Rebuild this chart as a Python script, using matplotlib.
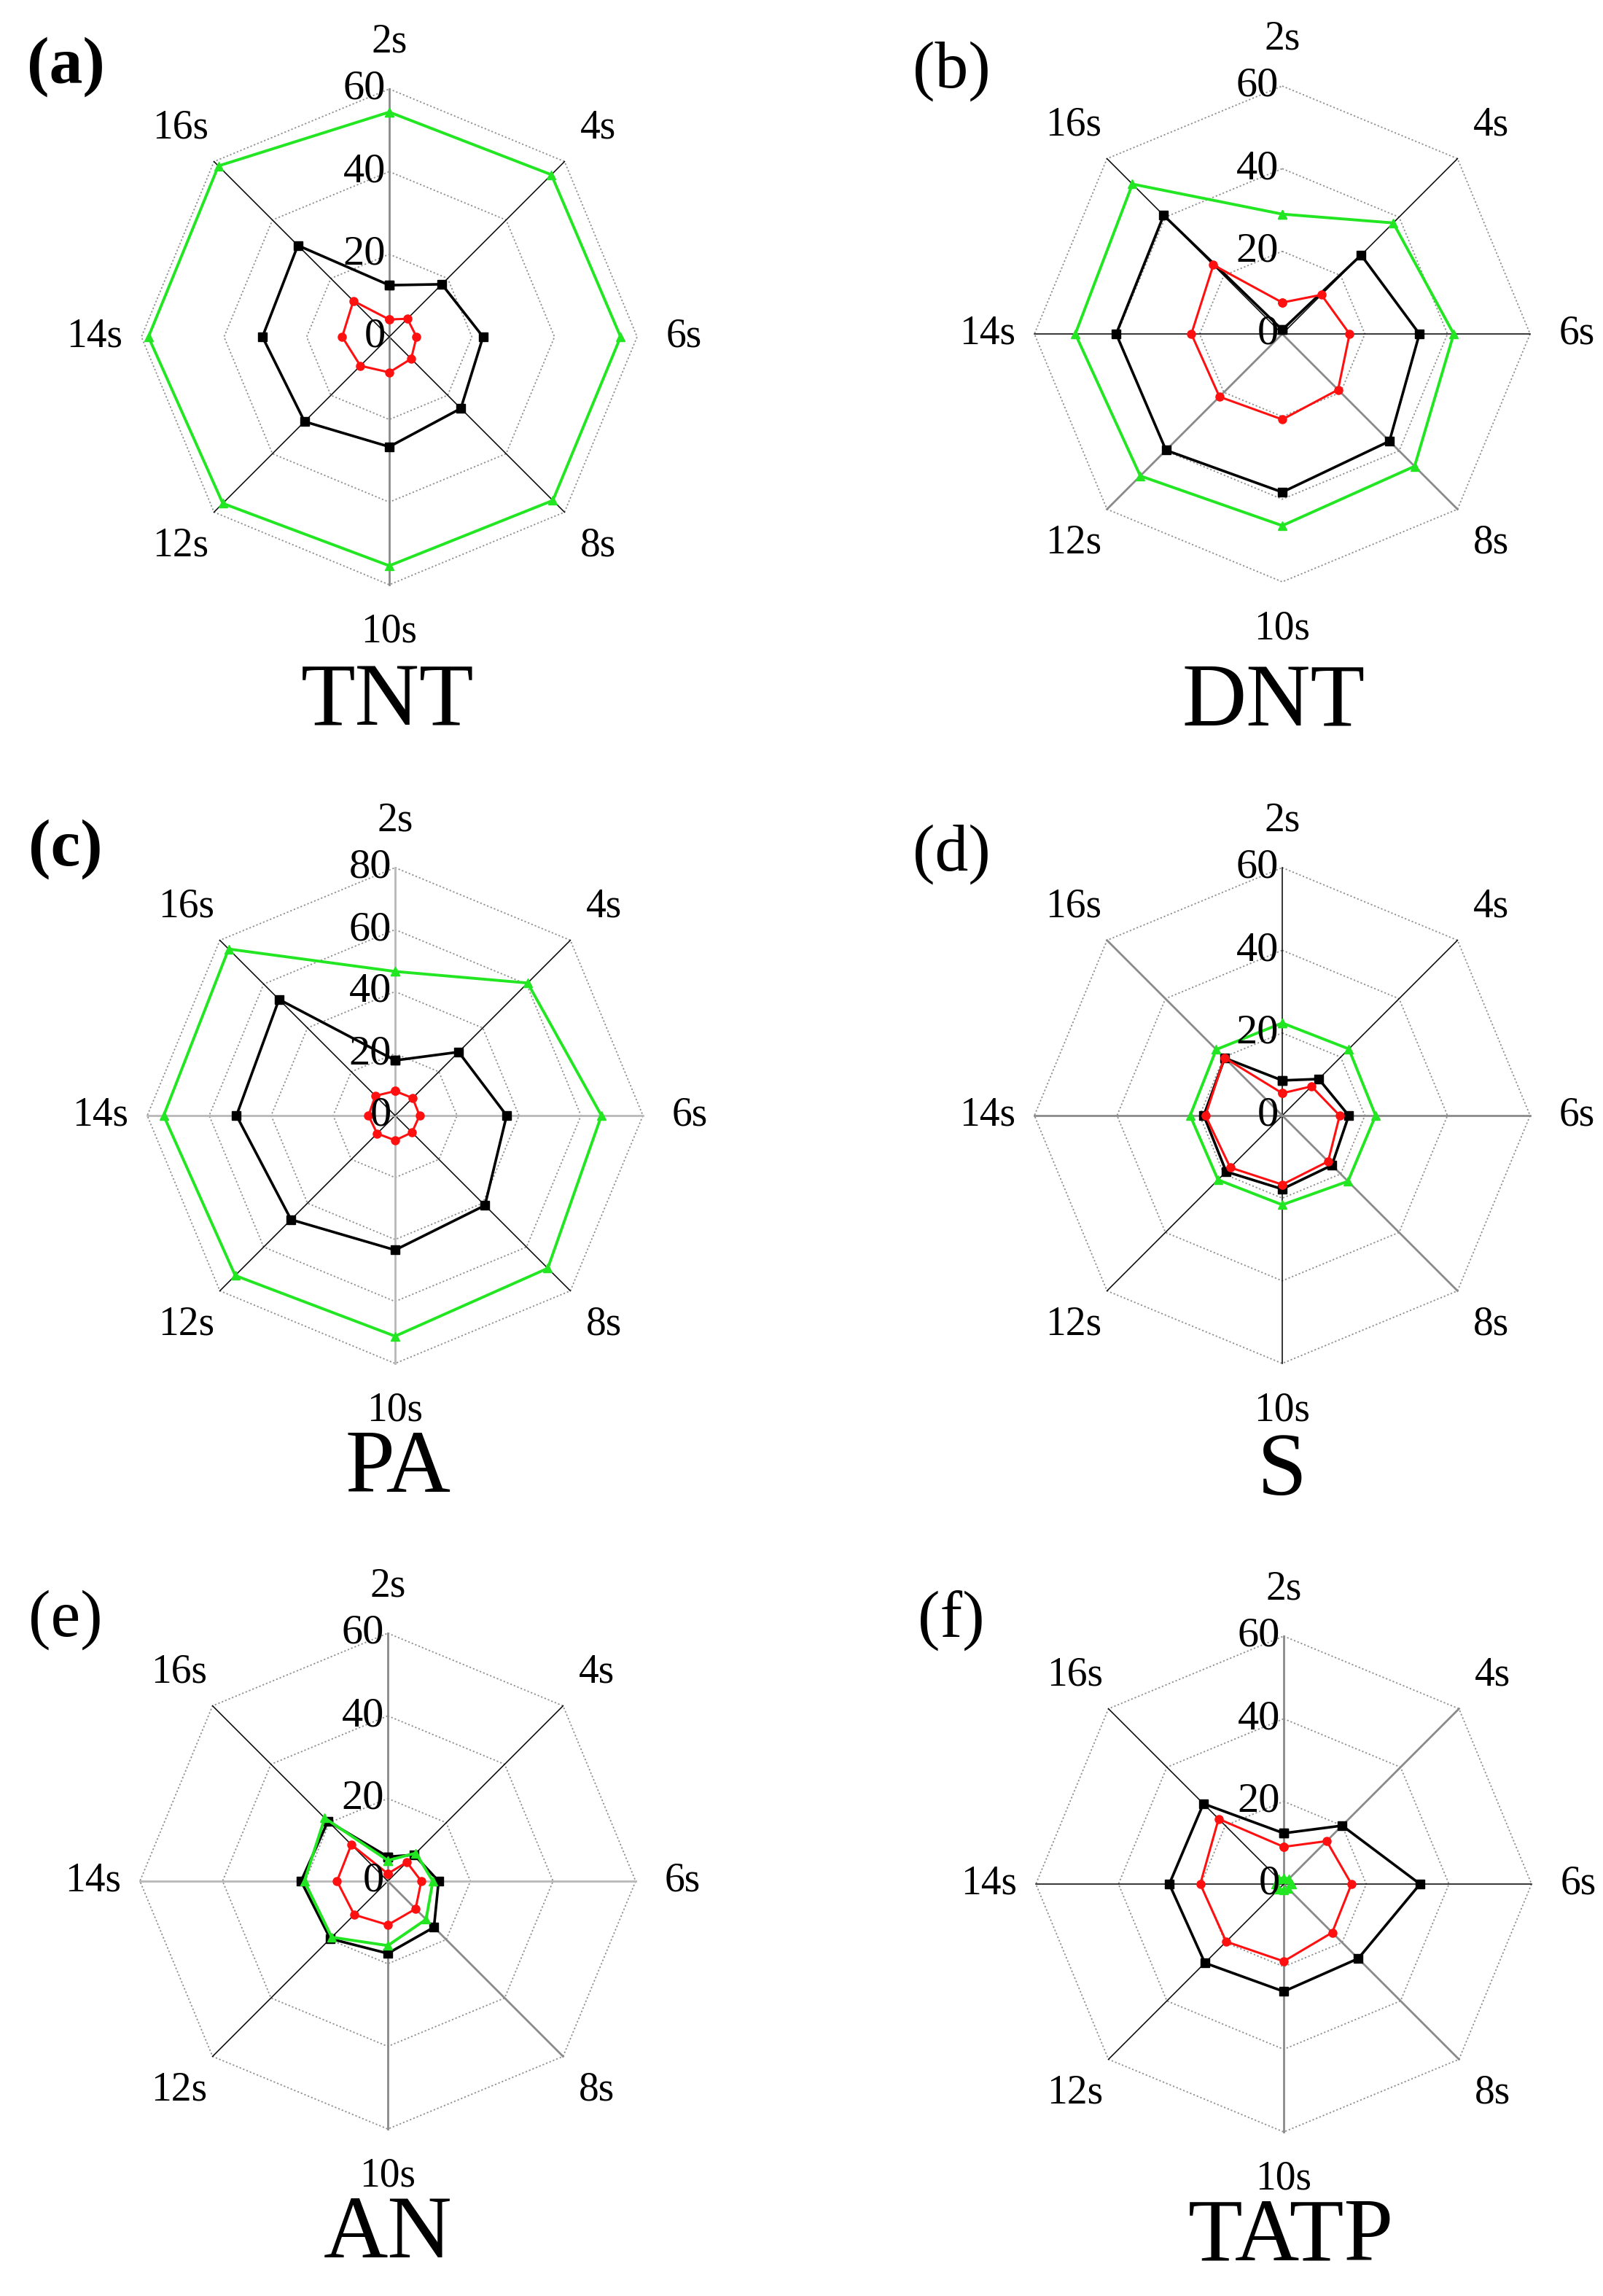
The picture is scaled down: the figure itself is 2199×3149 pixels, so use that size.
import numpy as np
import matplotlib.pyplot as plt

plt.rcParams['font.family'] = ['Liberation Serif', 'DejaVu Serif']

# time axes of the radar, clockwise from the top
times = ['2s', '4s', '6s', '8s', '10s', '12s', '14s', '16s']

# TNT
tnt_green = [54.4, 55.5, 56.0, 56.0, 55.4, 57.0, 58.3, 58.5]
tnt_black = [12.5, 18.0, 22.7, 24.5, 26.6, 29.0, 30.7, 31.3]
tnt_red = [4.2, 6.2, 6.6, 7.5, 8.6, 9.9, 11.4, 12.3]

# DNT
dnt_green = [29.0, 38.0, 41.5, 45.3, 46.4, 48.6, 50.1, 51.3]
dnt_black = [1.0, 27.0, 33.2, 36.7, 38.3, 39.8, 40.2, 40.6]
dnt_red = [7.6, 13.4, 16.3, 19.1, 20.7, 21.5, 22.0, 23.6]

# PA
pa_green = [46.5, 60.5, 66.6, 69.7, 71.2, 73.0, 74.7, 76.0]
pa_black = [17.8, 29.0, 36.0, 41.0, 43.4, 47.5, 51.2, 53.0]
pa_red = [7.9, 8.0, 7.9, 7.7, 8.0, 8.2, 8.6, 9.0]

# S
s_green = [22.4, 22.8, 22.6, 22.5, 21.6, 22.0, 22.3, 22.6]
s_black = [8.5, 12.5, 16.1, 17.0, 17.8, 19.2, 19.0, 19.7]
s_red = [5.4, 10.0, 13.9, 15.7, 16.7, 17.8, 18.6, 19.8]

# AN
an_green = [5.0, 9.6, 10.9, 13.1, 15.6, 19.2, 20.2, 21.6]
an_black = [5.9, 9.0, 12.3, 15.8, 17.5, 19.7, 21.0, 20.5]
an_red = [1.8, 6.5, 8.1, 9.5, 10.6, 11.5, 12.3, 12.5]

# TATP
tatp_green = [1.5, 1.8, 2.0, 1.6, 1.4, 1.7, 2.0, 1.8]
tatp_black = [12.3, 20.0, 33.0, 25.5, 26.0, 27.0, 27.7, 27.5]
tatp_red = [9.0, 14.7, 16.4, 16.6, 18.7, 19.7, 20.2, 22.3]

W, H = 2199, 3149
fig = plt.figure(figsize=(W / 100, H / 100), dpi=100)

ang = np.arange(8) * 2 * np.pi / 8
sx, sy = np.sin(ang), np.cos(ang)

K = 'black'
G = '#8a8a8a'
LG = '#b8b8b8'


def closed(a):
    return np.append(a, a[0])


def radar(cx, cy, rmax, green, black, red, spokes, letter, letter_xy, name, name_xy, bold=False):
    R = 340
    half = 540
    L = rmax * half / R
    ax = fig.add_axes([(cx - half) / W, 1 - (cy + half) / H, 2 * half / W, 2 * half / H])
    ax.set_xlim(-L, L)
    ax.set_ylim(-L, L)
    ax.axis('off')

    # dotted octagon grid
    for g in range(20, rmax + 1, 20):
        ax.plot(closed(g * sx), closed(g * sy), ls=(0, (1.2, 1.6)), color='#8f8f8f', lw=1.3, zorder=1)

    # spokes
    for k, c in enumerate(spokes):
        if c is None:
            continue
        ax.plot([0, rmax * sx[k]], [0, rmax * sy[k]], color=c,
                lw=1.1 if c == K else 2.0, zorder=2)

    # series
    b = np.array(black)
    r = np.array(red)
    gr = np.array(green)
    ax.plot(closed(b * sx), closed(b * sy), '-s', color='black', lw=2.6, ms=8, zorder=3)
    ax.plot(closed(r * sx), closed(r * sy), '-o', color='#ff1010', lw=2.2, ms=8, zorder=4)
    ax.plot(closed(gr * sx), closed(gr * sy), '-^', color='#22e622', lw=2.8, ms=9, zorder=5)

    # radial tick labels
    for v in range(0, rmax + 1, 20):
        ax.text(-0.015 * rmax, v, str(v), ha='right', va='center', fontsize=42, zorder=6)

    # time labels
    for k, t in enumerate(times):
        ax.text(1.19 * rmax * sx[k], 1.19 * rmax * sy[k], t, ha='center', va='center', fontsize=40)

    fig.text(letter_xy[0] / W, 1 - letter_xy[1] / H, letter, ha='center', va='center', fontsize=66,
             fontweight='bold' if bold else 'normal')
    fig.text(name_xy[0] / W, 1 - name_xy[1] / H, name, ha='center', va='center', fontsize=88)


radar(534, 462, 60, tnt_green, tnt_black, tnt_red,
      [G, K, None, K, G, K, None, K], '(a)', (90, 92), 'TNT', (532, 965), bold=True)
radar(1759, 458, 60, dnt_green, dnt_black, dnt_red,
      [None, K, K, G, None, G, K, K], '(b)', (1305, 98), 'DNT', (1747, 965))
radar(542, 1530, 80, pa_green, pa_black, pa_red,
      [LG, K, LG, K, LG, K, LG, K], '(c)', (90, 1165), 'PA', (546, 2016), bold=True)
radar(1759, 1530, 60, s_green, s_black, s_red,
      [K, K, G, G, K, K, G, G], '(d)', (1305, 1172), 'S', (1759, 2020))
radar(532, 2580, 60, an_green, an_black, an_red,
      [G, K, LG, G, G, K, LG, K], '(e)', (90, 2222), 'AN', (532, 3066))
radar(1761, 2584, 60, tatp_green, tatp_black, tatp_red,
      [G, G, K, G, G, K, K, K], '(f)', (1305, 2222), 'TATP', (1771, 3070))

fig.savefig('out.png', dpi=100, facecolor='white')
